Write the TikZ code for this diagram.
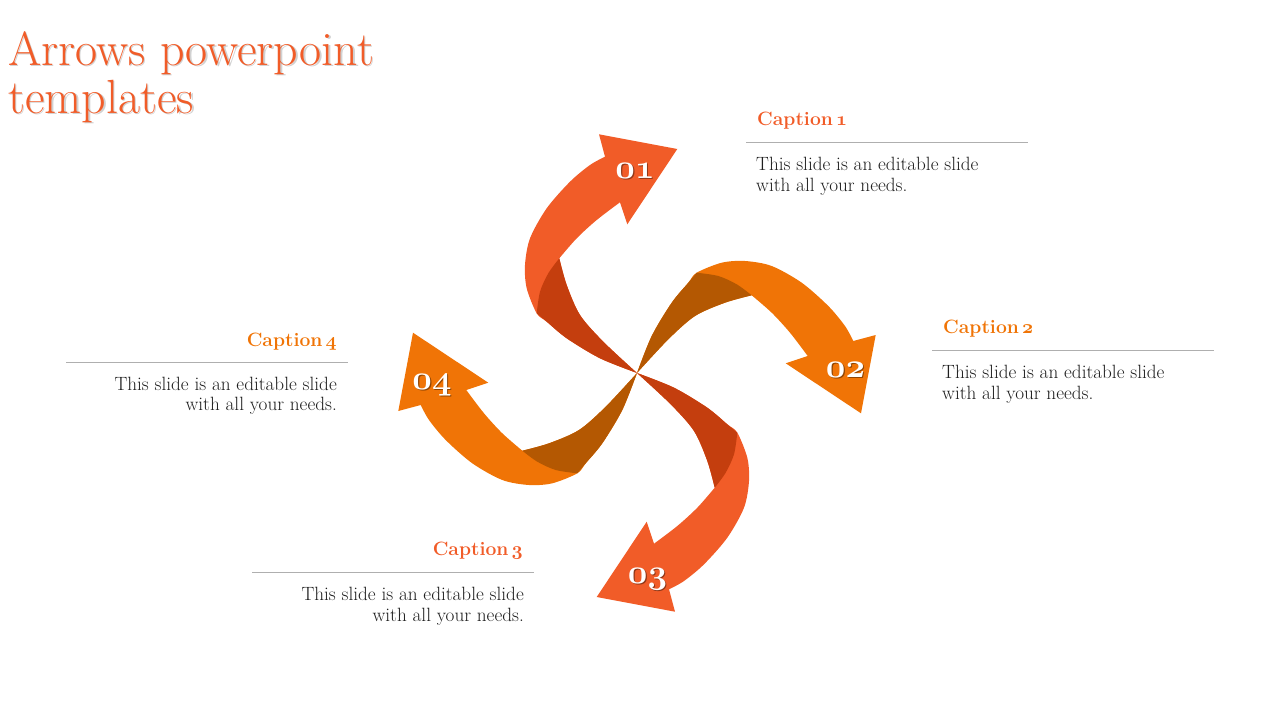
\RequirePackage{fix-cm}
\documentclass[tikz,border=0pt]{standalone}
\usepackage{tikz}
\usepackage{xcolor}

\definecolor{redor}{RGB}{241,92,40}
\definecolor{redordark}{RGB}{196,62,14}
\definecolor{orng}{RGB}{240,116,6}
\definecolor{orngdark}{RGB}{180,88,2}
\definecolor{rulegray}{RGB}{175,175,175}
\definecolor{bodytext}{RGB}{30,30,30}

% old style digits
\newcommand{\osn}[1]{{\usefont{OML}{cmm}{m}{it}#1}}
\newcommand{\osnb}[1]{{\usefont{OML}{cmm}{b}{it}#1}}

% one swirl arm, drawn pointing up from (0,0)
\newcommand{\swirlarm}[2]{%
\fill[#1] plot[smooth] coordinates {(0,0) (-37,14.7) (-70.3,34.7) (-90.3,51.3) (-100.3,59.7) (-110.3,84.7) (-112,108) (-107,134.7) (-90.3,164.7) (-67,191.3) (-47,208) (-32,216.3)}
 -- (-38,238.7) -- (40.3,224) -- (-9.7,148.7) -- (-17,170.7)
 -- plot[smooth] coordinates {(-17,170.7) (-40.3,153) (-60.3,134.7) (-77.7,114.7)}
 -- plot[smooth] coordinates {(-77.7,114.7) (-70.3,88) (-57,58) (-33.7,31.3) (0,0)} -- cycle;
\fill[#2] plot[smooth] coordinates {(0,0) (-37,14.7) (-70.3,34.7) (-90.3,51.3) (-100.3,59.7)}
 -- plot[smooth] coordinates {(-100.3,59.7) (-97,81.3) (-88.7,99.7) (-77.7,114.7)}
 -- plot[smooth] coordinates {(-77.7,114.7) (-70.3,88) (-57,58) (-33.7,31.3) (0,0)} -- cycle;
}

\tikzset{
titletxt/.style={font=\fontsize{48}{52}\selectfont, text=redor, inner sep=0pt},
caption/.style={font=\fontsize{19.3}{21}\selectfont\bfseries, inner sep=0pt},
bodytxt/.style={font=\fontsize{19.2}{22}\selectfont, text=bodytext, inner sep=0pt},
numlbl/.style={font=\fontsize{34}{34}\selectfont, text=white, inner sep=0pt, anchor=base},
numshadow/.style={numlbl, text=black, opacity=0.4},
seprule/.style={draw=rulegray, line width=0.8pt}
}

\begin{document}
\begin{tikzpicture}[x=1pt,y=1pt]
\useasboundingbox (0,0) rectangle (1280,-720);

% title
\node[titletxt, text=black!18, anchor=base west] (ttl1s) at (9.5,-66.8) {Arrows powerpoint};
\node[titletxt, anchor=base west] (ttl1) at (8,-65) {Arrows powerpoint};
\node[titletxt, text=black!18, anchor=base west] (ttl2s) at (9.5,-114.8) {templates};
\node[titletxt, anchor=base west] (ttl2) at (8,-113) {templates};

% swirl
\coordinate (hub) at (637,-373);
\begin{scope}[shift={(hub)}]
\swirlarm{redor}{redordark}
\end{scope}
\begin{scope}[shift={(hub)}, rotate=-90]
\swirlarm{orng}{orngdark}
\end{scope}
\begin{scope}[shift={(hub)}, rotate=-180]
\swirlarm{redor}{redordark}
\end{scope}
\begin{scope}[shift={(hub)}, rotate=-270]
\swirlarm{orng}{orngdark}
\end{scope}

% numbers
\node[numshadow] (n1s) at (636.2,-179.5) {\osnb{01}};
\node[numlbl] (n1) at (635,-178.3) {\osnb{01}};
\node[numshadow] (n2s) at (846.7,-378.2) {\osnb{02}};
\node[numlbl] (n2) at (845.5,-377) {\osnb{02}};
\node[numshadow] (n3s) at (648.7,-584.2) {\osnb{03}};
\node[numlbl] (n3) at (647.5,-583) {\osnb{03}};
\node[numshadow] (n4s) at (433.2,-390.2) {\osnb{04}};
\node[numlbl] (n4) at (432,-389) {\osnb{04}};

% caption 1
\node[caption, text=redor, anchor=base west] (cap1) at (757,-125) {Caption\,\osnb{1}};
\coordinate (r1a) at (746,-142.3);
\coordinate (r1b) at (1028,-142.3);
\draw[seprule] (r1a) -- (r1b);
\node[bodytxt, anchor=base west] (t1a) at (756,-170.7) {This slide is an editable slide};
\node[bodytxt, anchor=base west] (t1b) at (756,-191.5) {with all your needs.};

% caption 2
\node[caption, text=orng, anchor=base west] (cap2) at (943,-333) {Caption\,\osnb{2}};
\coordinate (r2a) at (932,-350.3);
\coordinate (r2b) at (1214,-350.3);
\draw[seprule] (r2a) -- (r2b);
\node[bodytxt, anchor=base west] (t2a) at (942,-378.7) {This slide is an editable slide};
\node[bodytxt, anchor=base west] (t2b) at (942,-399.5) {with all your needs.};

% caption 3
\node[caption, text=redor, anchor=base east] (cap3) at (523,-555.5) {Caption\,\osnb{3}};
\coordinate (r3a) at (252,-572.5);
\coordinate (r3b) at (534,-572.5);
\draw[seprule] (r3a) -- (r3b);
\node[bodytxt, anchor=base east] (t3a) at (524,-600.5) {This slide is an editable slide};
\node[bodytxt, anchor=base east] (t3b) at (524,-621.3) {with all your needs.};

% caption 4
\node[caption, text=orng, anchor=base east] (cap4) at (337,-346.7) {Caption\,\osnb{4}};
\coordinate (r4a) at (66,-362.7);
\coordinate (r4b) at (348,-362.7);
\draw[seprule] (r4a) -- (r4b);
\node[bodytxt, anchor=base east] (t4a) at (337,-390) {This slide is an editable slide};
\node[bodytxt, anchor=base east] (t4b) at (337,-410.8) {with all your needs.};
\end{tikzpicture}
\end{document}
